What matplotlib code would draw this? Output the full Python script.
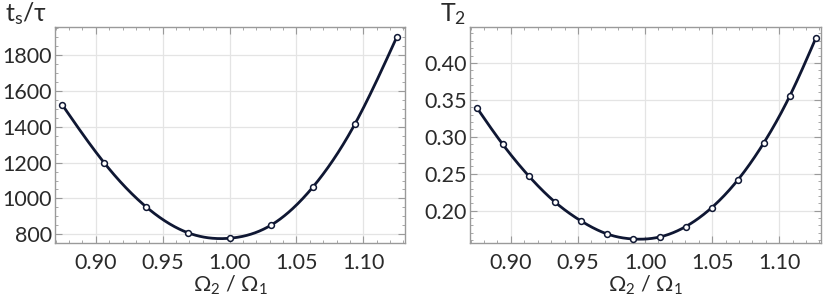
import numpy as np
import matplotlib.pyplot as plt
from matplotlib.ticker import MultipleLocator

# data
x_ts = [0.875, 0.90625, 0.9375, 0.96875, 1.0, 1.03125, 1.0625, 1.09375, 1.125]
ts_tau = [1521, 1199, 954, 809, 778, 852, 1065, 1415, 1899]

x_t2 = [0.8745, 0.8940, 0.9134, 0.9329, 0.9524, 0.9718, 0.9913,
        1.0108, 1.0302, 1.0497, 1.0691, 1.0886, 1.1081, 1.1275]
t2 = [0.3396, 0.2896, 0.2468, 0.2117, 0.1860, 0.1685, 0.1617,
      0.1644, 0.1784, 0.2041, 0.2414, 0.2919, 0.3559, 0.4342]

line_col = '#0f1733'
frame_col = '#9a9a9a'
grid_col = '#e4e4e4'
text_col = '#2a2a2a'

plt.rcParams['font.family'] = ['Lato', 'DejaVu Sans']
plt.rcParams['mathtext.fontset'] = 'custom'
plt.rcParams['mathtext.rm'] = 'Lato'
plt.rcParams['mathtext.it'] = 'Lato'


def spline(x, y, n=400):
    # natural cubic spline through the points
    x = np.asarray(x, float)
    y = np.asarray(y, float)
    k = len(x)
    h = np.diff(x)
    A = np.zeros((k, k))
    b = np.zeros(k)
    A[0, 0] = A[-1, -1] = 1
    for i in range(1, k - 1):
        A[i, i - 1] = h[i - 1]
        A[i, i] = 2 * (h[i - 1] + h[i])
        A[i, i + 1] = h[i]
        b[i] = 6 * ((y[i + 1] - y[i]) / h[i] - (y[i] - y[i - 1]) / h[i - 1])
    m = np.linalg.solve(A, b)
    xs = np.linspace(x[0], x[-1], n)
    j = np.clip(np.searchsorted(x, xs) - 1, 0, k - 2)
    t0 = x[j + 1] - xs
    t1 = xs - x[j]
    hj = h[j]
    ys = (m[j] * t0**3 + m[j + 1] * t1**3) / (6 * hj) \
        + (y[j] / hj - m[j] * hj / 6) * t0 + (y[j + 1] / hj - m[j + 1] * hj / 6) * t1
    return xs, ys


fig = plt.figure(figsize=(8.3, 2.97), dpi=100)
ax1 = fig.add_axes([55 / 830, 1 - 243 / 297, 350 / 830, 216 / 297])
ax2 = fig.add_axes([470 / 830, 1 - 243 / 297, 351 / 830, 216 / 297])

for ax, x, y in [(ax1, x_ts, ts_tau), (ax2, x_t2, t2)]:
    xs, ys = spline(x, y)
    ax.plot(xs, ys, color=line_col, lw=2.0, zorder=3)
    ax.plot(x, y, 'o', ms=4.2, mfc='white', mec=line_col, mew=1.1, zorder=4)
    ax.set_xlim(0.8695, 1.1312)
    ax.xaxis.set_major_locator(MultipleLocator(0.05))
    ax.xaxis.set_minor_locator(MultipleLocator(0.01))
    ax.grid(True, which='major', color=grid_col, lw=0.9)
    ax.set_axisbelow(True)
    for s in ax.spines.values():
        s.set_color(frame_col)
        s.set_linewidth(1.0)
    ax.tick_params(which='both', direction='in', top=True, right=True,
                   color=frame_col, labelsize=15.5, labelcolor=text_col)
    ax.tick_params(which='major', length=5, width=0.8)
    ax.tick_params(axis='y', which='major', pad=2)
    ax.tick_params(axis='x', which='major', pad=7)
    ax.tick_params(which='minor', length=2.5, width=0.6)
    ax.set_xticks([0.90, 0.95, 1.00, 1.05, 1.10])
    ax.set_xticklabels(['0.90', '0.95', '1.00', '1.05', '1.10'])
    ax.set_xlabel('Ω$_2$ / Ω$_1$', fontsize=15.5, labelpad=1, color=text_col)

ax1.set_ylim(751.5, 1956)
ax1.yaxis.set_major_locator(MultipleLocator(200))
ax1.yaxis.set_minor_locator(MultipleLocator(50))

ax2.set_ylim(0.1563, 0.4486)
ax2.yaxis.set_major_locator(MultipleLocator(0.05))
ax2.yaxis.set_minor_locator(MultipleLocator(0.01))
ax2.yaxis.set_major_formatter(plt.FormatStrFormatter('%.2f'))

fig.text(5 / 830, 1 - 21 / 297, 't$_\\mathrm{s}$/τ', fontsize=18, color=text_col,
         ha='left', va='baseline')
fig.text(440 / 830, 1 - 21 / 297, 'T$_2$', fontsize=18, color=text_col,
         ha='left', va='baseline')

fig.savefig('out.png', dpi=100)
